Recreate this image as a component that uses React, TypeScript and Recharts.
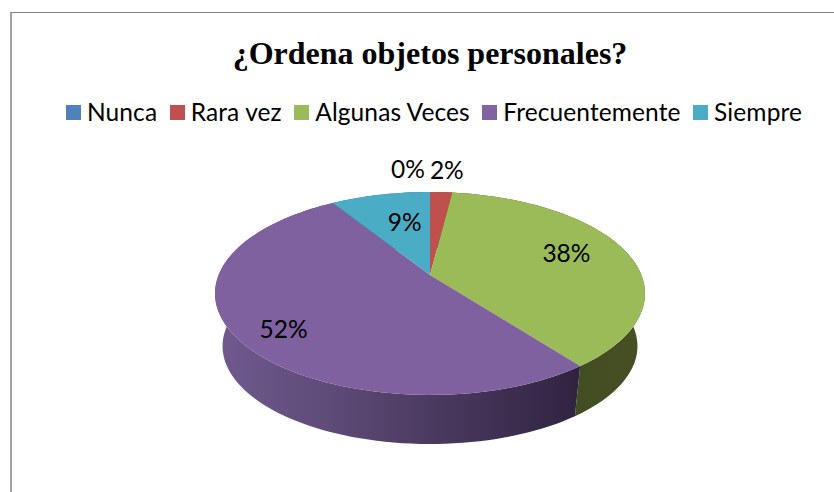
import { Legend, Pie, PieChart } from "recharts";

const categories = ["Nunca", "Rara vez", "Algunas Veces", "Frecuentemente", "Siempre"];
const percents = [0, 2, 38, 52, 9];
const colors = ["#4f81bd", "#c0504d", "#9bbb59", "#7f61a0", "#4bacc6"];
const swatchColors = ["#4f81bd", "#c0504d", "#9bbb59", "#8064a2", "#4bacc6"];
const wallColors = ["#2c4a6e", "#6e2c2a", "url(#wall-green)", "url(#wall-purple)", "#2a6274"];

// label placement: distance along the slice's radius, then a small nudge
const labelRadius = [1.3, 1.3, 0.68, 0.78, 0.55];
const labelNudgeX = [-22, 3, 2, 1, 4];
const labelNudgeY = [-3, -3, -6, 6, -6];

const data = categories.map((name, i) => ({ name, value: percents[i] }));

const APEX_X = 430;
const APEX_Y = 275;
const PERSPECTIVE = 0.182;
const TOP_A = 211.4;
const TOP_B = 98.1;
const WALL_SCALE = 0.965;
const WALL_APEX_Y = 328.3;

// projects a point of the flat disc onto the tilted view
function project(a: number, r: number, scale = 1, apexY = APEX_Y) {
  const rad = (a * Math.PI) / 180;
  const u = r * Math.sin(rad);
  const v = r * Math.cos(rad);
  const d = 1 + PERSPECTIVE * v;
  return {
    x: APEX_X + (scale * TOP_A * u) / d,
    y: apexY - (scale * TOP_B * v) / d,
  };
}

function arcPoints(from: number, to: number, scale = 1, apexY = APEX_Y) {
  const steps = Math.max(2, Math.ceil(Math.abs(to - from) / 2));
  const pts: string[] = [];
  for (let i = 0; i <= steps; i++) {
    const p = project(from + ((to - from) * i) / steps, 1, scale, apexY);
    pts.push(`${p.x.toFixed(2)} ${p.y.toFixed(2)}`);
  }
  return pts;
}

function TopSlice(props: any) {
  const from = 90 - props.startAngle;
  const to = 90 - props.endAngle;
  const d = `M${APEX_X} ${APEX_Y} L${arcPoints(from, to).join(" L")} Z`;
  return <path d={d} fill={props.fill} />;
}

function WallSlice(props: any) {
  const from = 90 - props.startAngle;
  const to = 90 - props.endAngle;
  const upper = arcPoints(from, to);
  const lower = arcPoints(to, from, WALL_SCALE, WALL_APEX_Y);
  const d = `M${upper.join(" L")} L${lower.join(" L")} Z`;
  return <path d={d} fill={props.fill} />;
}

function renderLabel(props: any) {
  const i = props.index;
  const p = project(90 - props.midAngle, labelRadius[i]);
  return (
    <text
      x={p.x + labelNudgeX[i]}
      y={p.y + labelNudgeY[i]}
      textAnchor="middle"
      dominantBaseline="central"
      fontFamily="Lato, 'Open Sans', sans-serif"
      fontSize={24.5}
      fill="#000"
    >
      {percents[i]}%
    </text>
  );
}

function LegendRow() {
  return (
    <div style={{ display: "flex", alignItems: "center", fontFamily: "Lato, 'Open Sans', sans-serif", fontSize: 24.5, letterSpacing: 0.1, color: "#000", lineHeight: "30px", whiteSpace: "nowrap" }}>
      {categories.map((name, i) => (
        <span key={name} style={{ display: "flex", alignItems: "center", marginRight: 12.5 }}>
          <span style={{ width: 15, height: 15, background: swatchColors[i], marginRight: 6 }} />
          {name}
        </span>
      ))}
    </div>
  );
}

export default function App() {
  return (
    <div style={{ position: "absolute", left: 0, top: 0, width: 834, height: 492, background: "#fff", overflow: "hidden" }}>
      <div style={{ position: "absolute", left: 10, top: 12, width: 824, height: 480, borderLeft: "2px solid #a3a3a3", borderTop: "1px solid #868686" }} />
      <div style={{ position: "absolute", left: 0, top: 0 }}>
        <PieChart width={834} height={492} margin={{ top: 0, right: 0, bottom: 0, left: 0 }}>
          <defs>
            <linearGradient id="wall-purple" x1="0" y1="0" x2="1" y2="0">
              <stop offset="0%" stopColor="#705a8f" />
              <stop offset="30%" stopColor="#5f4c79" />
              <stop offset="60%" stopColor="#4b3a60" />
              <stop offset="100%" stopColor="#302340" />
            </linearGradient>
            <linearGradient id="wall-green" x1="0" y1="0" x2="1" y2="0">
              <stop offset="0%" stopColor="#3c4720" />
              <stop offset="100%" stopColor="#465023" />
            </linearGradient>
          </defs>
          <text x={430} y={64} textAnchor="middle" fontFamily="'Liberation Serif', serif" fontWeight="bold" fontSize={32} fill="#000">
            ¿Ordena objetos personales?
          </text>
          <Pie
            data={data.map((d, i) => ({ ...d, fill: wallColors[i] }))}
            dataKey="value"
            nameKey="name"
            cx={APEX_X}
            cy={APEX_Y}
            outerRadius={100}
            startAngle={90}
            endAngle={-270}
            stroke="none"
            legendType="none"
            label={false}
            labelLine={false}
            shape={WallSlice}
            isAnimationActive={false}
          />
          <Pie
            data={data.map((d, i) => ({ ...d, fill: colors[i] }))}
            dataKey="value"
            nameKey="name"
            cx={APEX_X}
            cy={APEX_Y}
            outerRadius={100}
            startAngle={90}
            endAngle={-270}
            stroke="none"
            label={renderLabel}
            labelLine={false}
            shape={TopSlice}
            isAnimationActive={false}
          />
          <Legend content={<LegendRow />} wrapperStyle={{ position: "absolute", left: 66, top: 97, width: 768, bottom: "auto" }} />
        </PieChart>
      </div>
    </div>
  );
}
